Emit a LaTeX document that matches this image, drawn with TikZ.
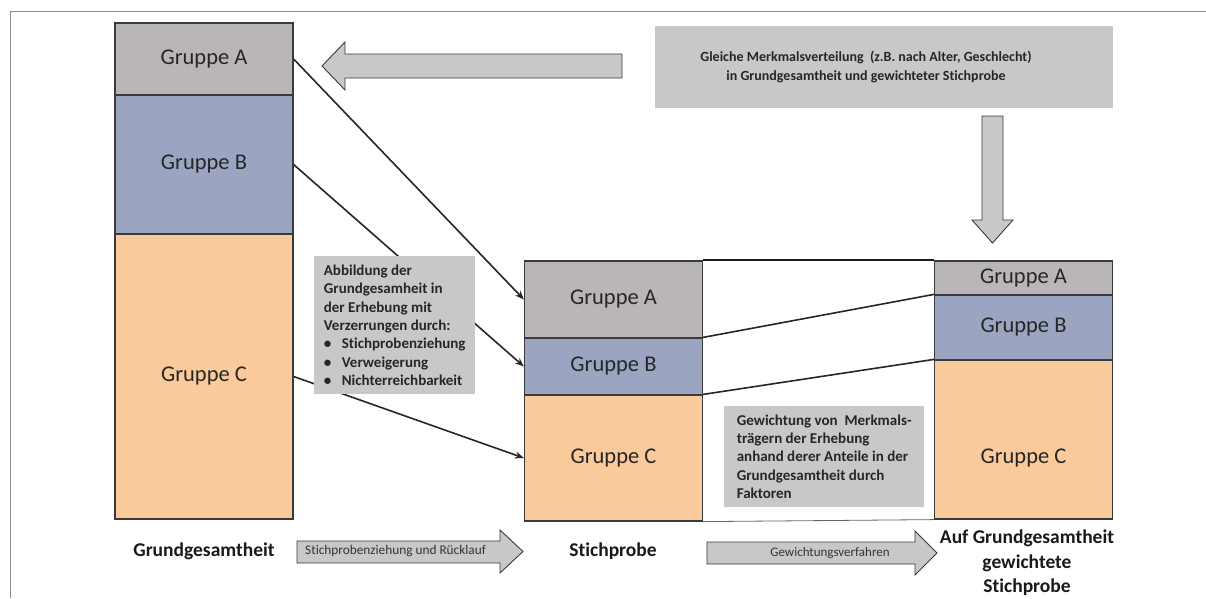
\documentclass[tikz,border=0pt]{standalone}
\usepackage{fontspec}
\setmainfont{Carlito}[Ligatures=NoCommon]
\usetikzlibrary{arrows.meta}
\definecolor{grauA}{HTML}{BAB6B7}
\definecolor{blauB}{HTML}{9BA5C2}
\definecolor{orangeC}{HTML}{FBCA9B}
\definecolor{kasten}{HTML}{C8C8CA}
\definecolor{rand}{HTML}{3A3A3A}
\tikzstyle{gruppe} = [draw=rand, line width=1.2pt, minimum width=178pt, inner sep=0pt, text=black!85, font=\fontsize{22.5}{25}\selectfont]
\tikzstyle{grA} = [gruppe, fill=grauA]
\tikzstyle{grB} = [gruppe, fill=blauB]
\tikzstyle{grC} = [gruppe, fill=orangeC]
\tikzstyle{notiz} = [fill=kasten, anchor=north west, inner xsep=9pt, inner ysep=0pt, align=left, text=black!85, font=\bfseries\fontsize{15}{18.3}\selectfont]
\tikzstyle{titel} = [align=center, text=black!90, font=\bfseries\fontsize{19.5}{24.5}\selectfont]
\tikzstyle{pfeil} = [line width=1.6pt, black!85, -{Stealth[length=9pt,width=7pt]}]
\tikzstyle{blockpfeil} = [draw=rand, line width=0.9pt, fill=kasten]

\begin{document}
\begin{tikzpicture}[x=1pt,y=-1pt]
\useasboundingbox (0,0) rectangle (1206,598);
\draw[black!45, line width=0.8pt] (10,598) -- (10,11) -- (1206,11);
% Grundgesamtheit
\node[grA, minimum height=72pt] (ggA) at (204,59) {Gruppe A};
\node[grB, minimum height=139pt] (ggB) at (204,164.5) {Gruppe B};
\node[grC, minimum height=285pt] (ggC) at (204,376.5) {Gruppe C};
% Stichprobe
\node[grA, minimum height=77pt] (stA) at (613.5,299.5) {Gruppe A};
\node[grB, minimum height=57pt] (stB) at (613.5,366.5) {Gruppe B};
\node[grC, minimum height=126pt] (stC) at (613.5,458) {Gruppe C};
% gewichtete Stichprobe
\node[grA, minimum height=34pt] (gwA) at (1023.5,278) {Gruppe A};
\node[grB, minimum height=65pt] (gwB) at (1023.5,327.5) {Gruppe B};
\node[grC, minimum height=159pt, label={[yshift=-19pt, text=black!85, font=\fontsize{22.5}{25}\selectfont]center:Gruppe C}] (gwC) at (1023.5,439.5) {};
% Zuordnung
\draw[pfeil] (ggA.east) -- (stA.west);
\draw[pfeil] (ggB.east) -- (stB.west);
\draw[pfeil] (ggC.east) -- (stC.west);
\draw[line width=2pt, black!90] (stA.north east) -- (gwA.north west);
\draw[line width=1.6pt, black!85] (stB.north east) -- (gwB.north west);
\draw[line width=1.6pt, black!85] (stC.north east) -- (gwC.north west);
\draw[line width=0.8pt, black!60] (stC.south east) -- (gwC.south west);
% Kaesten
\node[notiz, minimum width=161pt, minimum height=138pt] (verzerrung) at (314,256) {Abbildung der\\Grundgesamheit in\\der Erhebung mit\\Verzerrungen durch:\\\makebox[18pt][l]{\textbullet}Stichprobenziehung\\\makebox[18pt][l]{\textbullet}Verweigerung\\\makebox[18pt][l]{\textbullet}Nichterreichbarkeit};
\node[notiz, minimum width=200pt, minimum height=101pt] (gewichtung) at (724,406) {Gewichtung von~ Merkmals-\\trägern der Erhebung\\anhand derer Anteile in der\\Grundgesamtheit durch\\Faktoren};
\node[fill=kasten, minimum width=458pt, minimum height=82pt] (gleich) at (884,67) {};
\node[align=center, text=black!85, font=\bfseries\fontsize{14}{18.3}\selectfont] (gleichtext) at (866,67) {Gleiche Merkmalsverteilung~ (z.B. nach Alter, Geschlecht)\\in Grundgesamtheit und gewichteter Stichprobe};
% Blockpfeile
\draw[blockpfeil] (322,66) -- (345,42) -- (345,54) -- (622,54) -- (622,78) -- (345,78) -- (345,90) -- cycle;
\draw[blockpfeil] (982,116) -- (1003,116) -- (1003,220) -- (1013,220) -- (992.5,243) -- (972,220) -- (982,220) -- cycle;
\draw[blockpfeil] (297,541) -- (500,541) -- (500,530) -- (523,551.5) -- (500,573) -- (500,563) -- (297,563) -- cycle;
\draw[blockpfeil] (707,542) -- (915,542) -- (915,531) -- (937,553) -- (915,575) -- (915,564) -- (707,564) -- cycle;
\node[anchor=west, inner sep=0pt, text=black!80, font=\fontsize{13.3}{15}\selectfont] (ziehung) at (305,551) {Stichprobenziehung und Rücklauf};
\node[text=black!80, font=\fontsize{13}{15}\selectfont] (verfahren) at (830,553) {Gewichtungsverfahren};
% Beschriftung
\node[titel] (tGG) at (204,551) {Grundgesamtheit};
\node[titel] (tST) at (613,551) {Stichprobe};
\node[titel] (tGW) at (1027,563) {Auf Grundgesamtheit\\gewichtete\\Stichprobe};
\end{tikzpicture}
\end{document}
